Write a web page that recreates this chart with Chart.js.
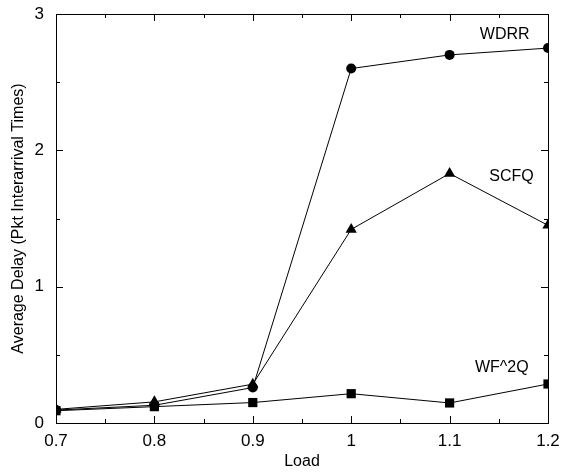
<!DOCTYPE html>
<html>
<head>
<meta charset="utf-8">
<script src="https://cdn.jsdelivr.net/npm/chart.js@4"></script>
<style>
  html, body { margin: 0; padding: 0; background: #fff; }
  #c { display: block; }
</style>
</head>
<body>
<canvas id="c" width="568" height="474"></canvas>
<script>
// Load levels on the x axis
const loads = [0.7, 0.8, 0.9, 1.0, 1.1, 1.2];

// Average delay per scheduler, in packet interarrival times
const wdrr = [0.095, 0.13, 0.26, 2.60, 2.70, 2.75];
const scfq = [0.10, 0.155, 0.285, 1.42, 1.83, 1.45];
const wf2q = [0.09, 0.12, 0.15, 0.215, 0.147, 0.286];

// Series names and where their labels sit (data coordinates)
const seriesNames = ['WDRR', 'SCFQ', 'WF^2Q'];
const labelX = [1.156, 1.163, 1.153];
const labelY = [2.85, 1.81, 0.41];

// Axis ticks
const xMajor = [0.7, 0.8, 0.9, 1.0, 1.1, 1.2];
const xMinor = [0.75, 0.85, 0.95, 1.05, 1.15];
const yMajor = [0, 1, 2, 3];
const yMinor = [0.5, 1.5, 2.5];

const FONT = '"Liberation Sans", Arial, Helvetica, sans-serif';

const toPts = ys => ys.map((y, i) => ({ x: loads[i], y }));

// Frame with inward ticks on all four sides, plus series labels
const framePlugin = {
  id: 'frame',
  afterDatasetsDraw(chart) {
    const { ctx, chartArea: a, scales } = chart;
    const xs = scales.x, ys = scales.y;
    ctx.save();
    ctx.strokeStyle = '#000';
    ctx.lineWidth = 1;
    ctx.strokeRect(Math.round(a.left) + 0.5, Math.round(a.top) + 0.5,
                   Math.round(a.right - a.left), Math.round(a.bottom - a.top));
    ctx.beginPath();
    const xt = (v, len) => {
      const p = Math.round(xs.getPixelForValue(v)) + 0.5;
      ctx.moveTo(p, a.bottom); ctx.lineTo(p, a.bottom - len);
      ctx.moveTo(p, a.top); ctx.lineTo(p, a.top + len);
    };
    const yt = (v, len) => {
      const p = Math.round(ys.getPixelForValue(v)) + 0.5;
      ctx.moveTo(a.left, p); ctx.lineTo(a.left + len, p);
      ctx.moveTo(a.right, p); ctx.lineTo(a.right - len, p);
    };
    xMajor.forEach(v => xt(v, 7));
    xMinor.forEach(v => xt(v, 4));
    yMajor.forEach(v => yt(v, 7));
    yMinor.forEach(v => yt(v, 4));
    ctx.stroke();

    ctx.fillStyle = '#000';
    ctx.font = '16px ' + FONT;
    ctx.textAlign = 'center';
    ctx.textBaseline = 'middle';
    seriesNames.forEach((n, i) => {
      ctx.fillText(n, xs.getPixelForValue(labelX[i]), ys.getPixelForValue(labelY[i]));
    });
    ctx.restore();
  }
};

const common = {
  borderColor: '#000',
  backgroundColor: '#000',
  pointBackgroundColor: '#000',
  pointBorderColor: '#000',
  borderWidth: 1,
  pointBorderWidth: 0,
  tension: 0
};

new Chart(document.getElementById('c'), {
  type: 'line',
  data: {
    datasets: [
      { ...common, label: seriesNames[0], data: toPts(wdrr), pointStyle: 'circle', pointRadius: 5 },
      { ...common, label: seriesNames[1], data: toPts(scfq), pointStyle: 'triangle', pointRadius: 6.5 },
      { ...common, label: seriesNames[2], data: toPts(wf2q), pointStyle: 'rect', pointRadius: 6.5 }
    ]
  },
  options: {
    responsive: false,
    animation: false,
    events: [],
    layout: { padding: { top: 14, right: 20, left: 0, bottom: 0 } },
    plugins: { legend: { display: false }, tooltip: { enabled: false } },
    scales: {
      x: {
        type: 'linear',
        min: 0.7, max: 1.2,
        afterBuildTicks: s => { s.ticks = xMajor.map(v => ({ value: v })); },
        afterFit: s => { s.height = 51; s.paddingLeft = 0; s.paddingRight = 0; },
        grid: { display: false, drawTicks: false },
        border: { display: false },
        ticks: {
          color: '#000', padding: 8,
          font: { family: FONT, size: 17 },
          callback: v => String(Math.round(v * 10) / 10)
        },
        title: {
          display: true, text: 'Load', color: '#000',
          font: { family: FONT, size: 16 },
          padding: { top: 0, bottom: 3 }
        }
      },
      y: {
        type: 'linear',
        min: 0, max: 3,
        afterBuildTicks: s => { s.ticks = yMajor.map(v => ({ value: v })); },
        afterFit: s => { s.width = 56; s.paddingTop = 0; s.paddingBottom = 0; },
        grid: { display: false, drawTicks: false },
        border: { display: false },
        ticks: {
          color: '#000', padding: 12,
          font: { family: FONT, size: 17 },
          callback: v => String(v)
        },
        title: {
          display: true, text: 'Average Delay (Pkt Interarrival Times)', color: '#000',
          font: { family: FONT, size: 16 },
          padding: { top: 9, bottom: 0 }
        }
      }
    }
  },
  plugins: [framePlugin]
});
</script>
</body>
</html>
